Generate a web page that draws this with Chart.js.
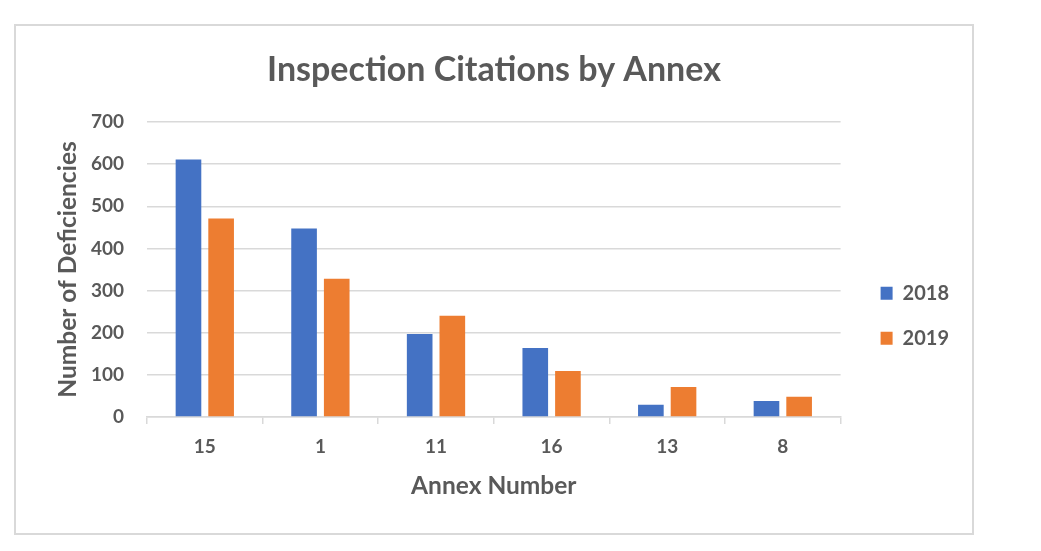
<!DOCTYPE html>
<html>
<head>
<meta charset="utf-8">
<script src="https://cdn.jsdelivr.net/npm/chart.js@4.4.1/dist/chart.umd.min.js"></script>
<style>
  html, body { margin: 0; padding: 0; background: #ffffff; }
  #frame { position: absolute; left: 14px; top: 24px; width: 960px; height: 511px; border: 2px solid #d9d9d9; box-sizing: border-box; background: #fff; }
  canvas { display: block; }
</style>
</head>
<body>
<div id="frame"><canvas id="c"></canvas></div>
<script>
const categories = ["15", "1", "11", "16", "13", "8"];
const series2018 = [611, 447, 197, 164, 29, 38];
const series2019 = [471, 328, 240, 109, 71, 48];
const seriesNames = ["2018", "2019"];
const yTicks = [0, 100, 200, 300, 400, 500, 600, 700];

const FONT = "Lato, 'Open Sans', sans-serif";
const GREY = "#595959";
const GRID = "#d9d9d9";

// nudges legend and title boxes after Chart.js has laid out the chart area
const boxNudge = {
  id: "boxNudge",
  afterLayout(chart) {
    if (chart.legend) { chart.legend.left += 15; chart.legend.right += 15; }
    if (chart.titleBlock) { chart.titleBlock.left += 14; chart.titleBlock.right += 14; }
  }
};

new Chart(document.getElementById("c"), {
  type: "bar",
  plugins: [boxNudge],
  data: {
    labels: categories,
    datasets: [
      { label: seriesNames[0], data: series2018, backgroundColor: "#4472c4", categoryPercentage: 0.565, barPercentage: 0.785 },
      { label: seriesNames[1], data: series2019, backgroundColor: "#ed7d31", categoryPercentage: 0.565, barPercentage: 0.785 }
    ]
  },
  options: {
    responsive: true,
    maintainAspectRatio: false,
    animation: false,
    layout: { padding: { left: 0, right: 28, top: 0, bottom: 0 } },
    plugins: {
      tooltip: { enabled: false },
      title: {
        display: true,
        text: "Inspection Citations by Annex",
        color: GREY,
        font: { family: FONT, size: 34, weight: "bold" },
        padding: { top: 23.5, bottom: 31.7 }
      },
      legend: {
        position: "right",
        align: "start",
        title: { display: true, text: "", font: { size: 1 }, padding: { top: 0, bottom: 231 } },
        labels: {
          color: GREY,
          font: { family: FONT, size: 20, weight: "bold" },
          boxWidth: 12,
          boxHeight: 13,
          padding: 25
        }
      }
    },
    scales: {
      x: {
        afterFit: (axis) => { axis.height = 116; },
        grid: { display: true, drawOnChartArea: false, drawTicks: true, tickLength: 7, color: GRID, lineWidth: 1.5, offset: true },
        border: { display: true, color: GRID, width: 1.5 },
        ticks: { color: GREY, font: { family: FONT, size: 19, weight: "bold" }, padding: 11 },
        title: { display: true, text: "Annex Number", color: GREY, font: { family: FONT, size: 24.5, weight: "bold" }, padding: { top: 0, bottom: 32 } }
      },
      y: {
        min: 0,
        max: 700,
        afterFit: (axis) => { axis.width = 131; },
        afterBuildTicks: (axis) => { axis.ticks = yTicks.map(v => ({ value: v })); },
        grid: { color: GRID, lineWidth: 1.5, drawTicks: false },
        border: { display: false },
        ticks: { color: GREY, font: { family: FONT, size: 19, weight: "bold" }, padding: 23 },
        title: { display: true, text: "Number of Deficiencies", color: GREY, font: { family: FONT, size: 24.5, weight: "bold" }, padding: { top: 37, bottom: 0 } }
      }
    }
  }
});
</script>
</body>
</html>
